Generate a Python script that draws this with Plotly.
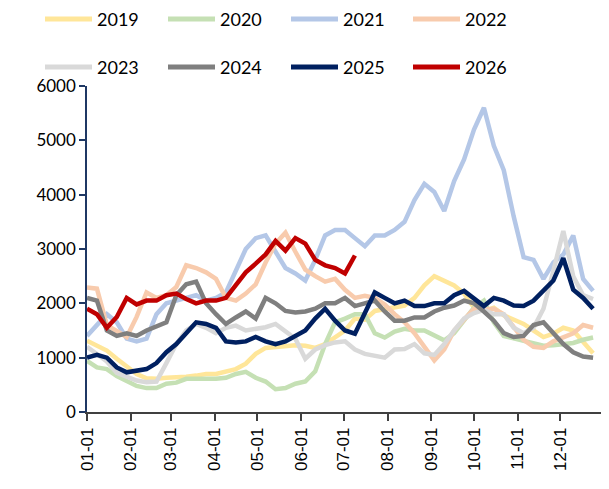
import plotly.graph_objects as go

# weekly sample dates (month-day), plotted on a dummy year
DATES = ["01-01", "01-08", "01-15", "01-22", "01-29", "02-05", "02-12", "02-19", "02-26",
         "03-05", "03-12", "03-19", "03-26", "04-02", "04-09", "04-16", "04-23", "04-30",
         "05-07", "05-14", "05-21", "05-28", "06-04", "06-11", "06-18", "06-25", "07-02",
         "07-09", "07-16", "07-23", "07-30", "08-06", "08-13", "08-20", "08-27", "09-03",
         "09-10", "09-17", "09-24", "10-01", "10-08", "10-15", "10-22", "10-29", "11-05",
         "11-12", "11-19", "11-26", "12-03", "12-10", "12-17", "12-24"]

YEARS = ["2019", "2020", "2021", "2022", "2023", "2024", "2025", "2026"]
COLORS = ["#FFE699", "#C5E0B4", "#B4C7E7", "#F8CBAD", "#D9D9D9", "#7F7F7F", "#002060", "#C00000"]

y2019 = [1310, 1220, 1130, 980, 840, 700, 620, 610, 630, 630, 650, 670, 700, 700, 740, 790,
         890, 1070, 1180, 1200, 1230, 1230, 1220, 1180, 1250, 1370, 1500, 1720, 1700, 1860,
         1900, 1930, 1960, 2100, 2330, 2500, 2420, 2330, 2180, 1920, 1860, 1920, 1780, 1700,
         1620, 1500, 1380, 1440, 1550, 1500, 1300, 1080]
y2020 = [940, 820, 790, 660, 570, 480, 440, 440, 520, 540, 610, 610, 600, 610, 630, 700,
         740, 630, 560, 420, 440, 520, 560, 750, 1250, 1650, 1720, 1800, 1800, 1450, 1370,
         1480, 1530, 1500, 1500, 1400, 1320, 1450, 1700, 1920, 2050, 1650, 1400, 1350, 1310,
         1250, 1220, 1230, 1250, 1270, 1330, 1370]
y2021 = [1400, 1600, 1800, 1650, 1350, 1300, 1350, 1800, 2000, 2050, 2100, 2150, 2050, 2100,
         2200, 2600, 3000, 3200, 3250, 2950, 2650, 2550, 2420, 2800, 3250, 3350, 3350, 3200,
         3050, 3250, 3250, 3350, 3500, 3900, 4200, 4050, 3700, 4250, 4650, 5200, 5600, 4900,
         4450, 3600, 2850, 2800, 2450, 2750, 2900, 3250, 2450, 2230]
y2022 = [2290, 2270, 1600, 1500, 1380, 1750, 2200, 2100, 2150, 2300, 2700, 2650, 2570, 2450,
         2100, 2050, 2180, 2350, 2750, 3100, 3300, 2950, 2620, 2500, 2400, 2450, 2250, 2100,
         2140, 2100, 1980, 1800, 1650, 1450, 1200, 950, 1150, 1500, 1700, 1900, 1880, 1900,
         1800, 1550, 1330, 1200, 1180, 1300, 1370, 1450, 1600, 1550]
y2023 = [1200, 1070, 930, 720, 640, 580, 550, 560, 900, 1250, 1500, 1620, 1550, 1450, 1550,
         1590, 1500, 1520, 1560, 1620, 1480, 1350, 980, 1150, 1230, 1280, 1300, 1150, 1070,
         1030, 1000, 1150, 1160, 1250, 1080, 1050, 1250, 1500, 1720, 1820, 1880, 1800, 1800,
         1550, 1450, 1550, 1900, 2600, 3330, 2500, 2150, 2080]
y2024 = [2100, 2050, 1500, 1400, 1450, 1400, 1500, 1580, 1650, 2150, 2350, 2400, 2000, 1800,
         1620, 1740, 1850, 1720, 2100, 2000, 1860, 1830, 1850, 1900, 2000, 2000, 2100, 1950,
         2000, 2050, 1850, 1680, 1680, 1740, 1740, 1850, 1920, 1960, 2050, 2000, 1850, 1680,
         1450, 1380, 1400, 1600, 1650, 1450, 1250, 1100, 1020, 1000]
y2025 = [1000, 1050, 1000, 820, 730, 760, 790, 900, 1100, 1250, 1450, 1650, 1620, 1550, 1300,
         1280, 1300, 1380, 1300, 1250, 1300, 1400, 1500, 1720, 1900, 1680, 1500, 1440, 1800,
         2200, 2100, 2000, 2050, 1950, 1950, 2000, 2000, 2150, 2230, 2100, 1950, 2100, 2050,
         1960, 1950, 2050, 2230, 2420, 2830, 2250, 2100, 1900]
y2026 = [1900, 1800, 1550, 1750, 2100, 1980, 2050, 2050, 2150, 2180, 2080, 2000, 2050, 2050,
         2100, 2350, 2570, 2730, 2900, 3150, 2970, 3200, 3100, 2800, 2700, 2650, 2550, 2880]

SERIES = [y2019, y2020, y2021, y2022, y2023, y2024, y2025, y2026]
MONTH_TICKS = ["01-01", "02-01", "03-01", "04-01", "05-01", "06-01",
               "07-01", "08-01", "09-01", "10-01", "11-01", "12-01"]

x_dates = ["2001-" + d for d in DATES]

fig = go.Figure()
for name, color, vals in zip(YEARS, COLORS, SERIES):
    fig.add_trace(go.Scatter(x=x_dates[:len(vals)], y=vals, mode="lines", name=name,
                             line=dict(color=color, width=4.5), showlegend=False))

# the page body adds an 8px margin, so work in figure pixels
OFF = 8
FW, FH = 609 - OFF, 489 - OFF
L, R, T, B = 87 - OFF, 603 - OFF, 86 - OFF, 412 - OFF
W, H = R - L, B - T


def px(x):
    return (x - OFF - L) / W


def py(y):
    return (B - (y - OFF)) / H


# hand made legend, two rows of four (page pixel positions)
col_x = [45, 168, 291, 413]
row_y = [19, 67]
for i, (name, color) in enumerate(zip(YEARS, COLORS)):
    x0 = col_x[i % 4]
    y0 = row_y[i // 4]
    fig.add_shape(type="line", xref="paper", yref="paper",
                  x0=px(x0), x1=px(x0 + 47), y0=py(y0), y1=py(y0),
                  line=dict(color=color, width=5))
    fig.add_annotation(xref="paper", yref="paper", x=px(x0 + 50), y=py(y0),
                       text=name, showarrow=False, xanchor="left", yanchor="middle",
                       font=dict(family="Lato", size=18, color="black"))

fig.update_xaxes(type="date", range=["2001-01-01", "2001-12-31"],
                 tickvals=["2001-" + d for d in MONTH_TICKS], tickformat="%m-%d",
                 tickangle=-90, ticks="outside", ticklen=7, tickwidth=1.5,
                 tickcolor="#404040", showline=True, linecolor="#404040", linewidth=1.5,
                 showgrid=False, zeroline=False,
                 tickfont=dict(family="Liberation Sans", size=17, color="black"))
fig.update_yaxes(range=[0, 6000], tickvals=[0, 1000, 2000, 3000, 4000, 5000, 6000],
                 ticks="outside", ticklen=6, tickwidth=1.5, tickcolor="#1F3864",
                 showline=True, linecolor="#1F3864", linewidth=1.5,
                 showgrid=False, zeroline=False,
                 tickfont=dict(family="Lato", size=17, color="black"))

fig.update_layout(width=FW, height=FH, margin=dict(l=L, r=FW - R, t=T, b=FH - B),
                  plot_bgcolor="white", paper_bgcolor="white")

fig.write_html("out.html")
